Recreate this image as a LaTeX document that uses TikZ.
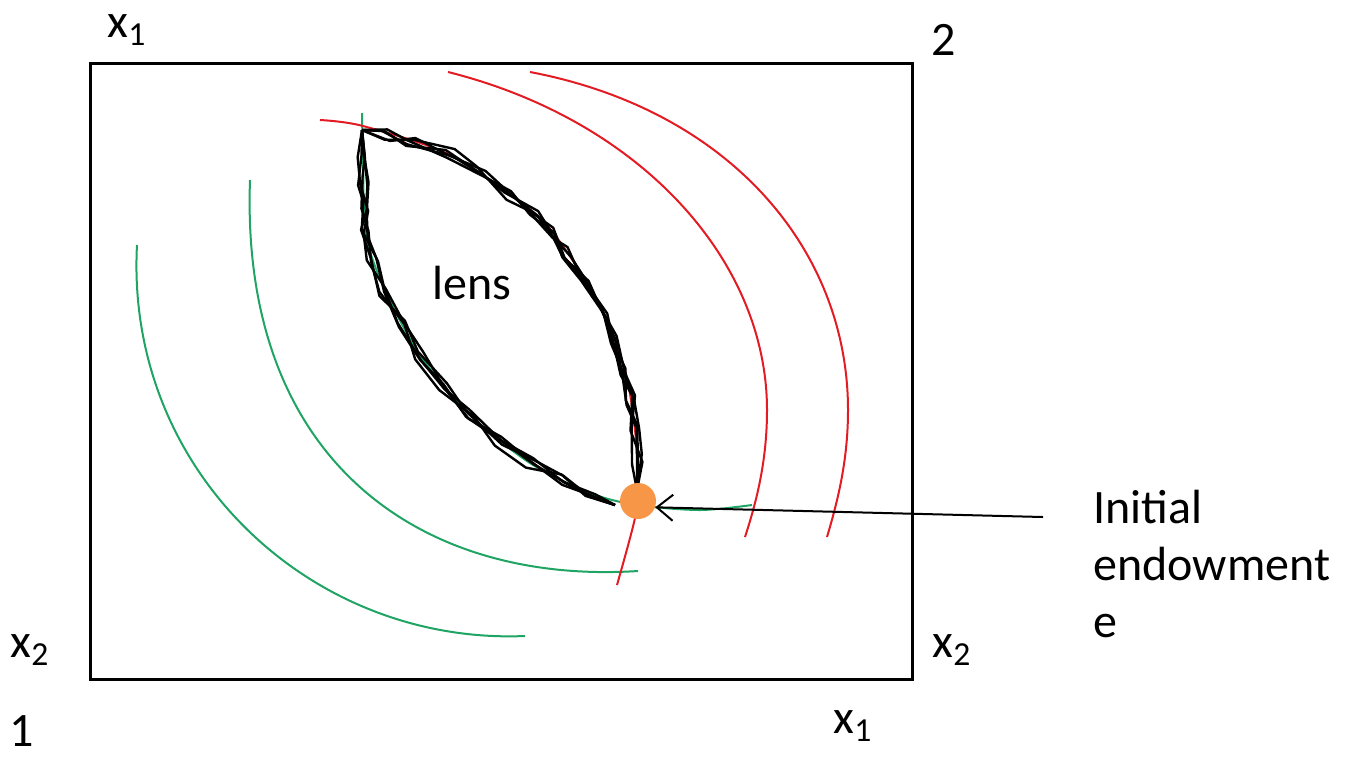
\documentclass[tikz,border=0pt]{standalone}
\usepackage{fontspec}
\setmainfont{Carlito}
\usetikzlibrary{arrows.meta,positioning}
\definecolor{CurveGreen}{HTML}{1FA464}
\definecolor{CurveRed}{HTML}{E31B23}
\definecolor{DotOrange}{HTML}{F79646}
\tikzset{
  boxline/.style={draw=black,line width=1.5pt},
  greencurve/.style={draw=CurveGreen,line width=1pt},
  redcurve/.style={draw=CurveRed,line width=1pt},
  scribble/.style={draw=black,line width=1.2pt,line join=round},
  bigtext/.style={font=\fontsize{24}{28.5}\selectfont,inner sep=0pt},
  endowdot/.style={circle,fill=DotOrange,minimum size=18pt,inner sep=0pt},
  pointer/.style={-{Straight Barb[length=8pt,width=13pt]},line width=1pt}
}
\newcommand{\lowedge}{363/155,363/180,364/205,365/235,372/262,385/290,402/322,420/355,444/385,470/415,500/440,530/463,560/480,590/493}
\newcommand{\upedge}{385/135,410/143,450/155,480/172,510/195,533/212,552/232,567/252,586/280,603/312,615/340,625/370,631/400,635/430,637/460}

\begin{document}
\begin{tikzpicture}[x=0.5pt,y=-0.5pt]
\useasboundingbox (0,0) rectangle (1359,757);
% Edgeworth box
\draw[boxline] (90,63) rectangle (912,679);
\node[bigtext] (x1top) at (127,30) {x\textsubscript{1}};
\node[bigtext] (two) at (944,40) {2};
\node[bigtext] (x2left) at (30,650) {x\textsubscript{2}};
\node[bigtext] (one) at (22,731) {1};
\node[bigtext] (x2right) at (952,650) {x\textsubscript{2}};
\node[bigtext] (x1bot) at (853,726) {x\textsubscript{1}};

% indifference curves of 1
\draw[greencurve] (137,245) .. controls (125,470) and (310,645) .. (525,636);
\draw[greencurve] (250,180) .. controls (240,460) and (420,585) .. (638,571);
\draw[greencurve] plot[smooth] coordinates {(362,113) (363,160) (366,235) (385,290) (420,355) (470,415) (530,463) (590,493) (637,505) (700,510) (752,505)};

% indifference curves of 2
\draw[redcurve] plot[smooth] coordinates {(320,120) (363,126) (450,155) (533,212) (567,252) (603,312) (625,370) (635,430) (638,483) (635,518) (617,585)};
\draw[redcurve] (448,72) .. controls (640,120) and (767,260) .. (767,410) .. controls (767,460) and (757,500) .. (745,537);
\draw[redcurve] (530,72) .. controls (730,110) and (848,250) .. (848,410) .. controls (848,460) and (838,500) .. (827,537);

% hand drawn lens
\pgfmathsetseed{7}
\foreach \pass in {1,...,5} {
  \draw[scribble] (362,130) \foreach \px/\py in \lowedge { -- (\px+6*rand,\py+6*rand) } -- (615,505);
  \draw[scribble] (362,130) \foreach \px/\py in \upedge { -- (\px+6*rand,\py+6*rand) } -- (637,490);
}
\node[bigtext] (lens) at (472,283) {lens};

% endowment
\node[endowdot] (dot) at (638,501) {};
\node[bigtext,align=left,anchor=north west] (endow) at (1093,490) {Initial\\endowment\\e};
\coordinate (tail) at (1043,517);
\draw[pointer] (tail) -- (dot.-20);
\end{tikzpicture}
\end{document}
